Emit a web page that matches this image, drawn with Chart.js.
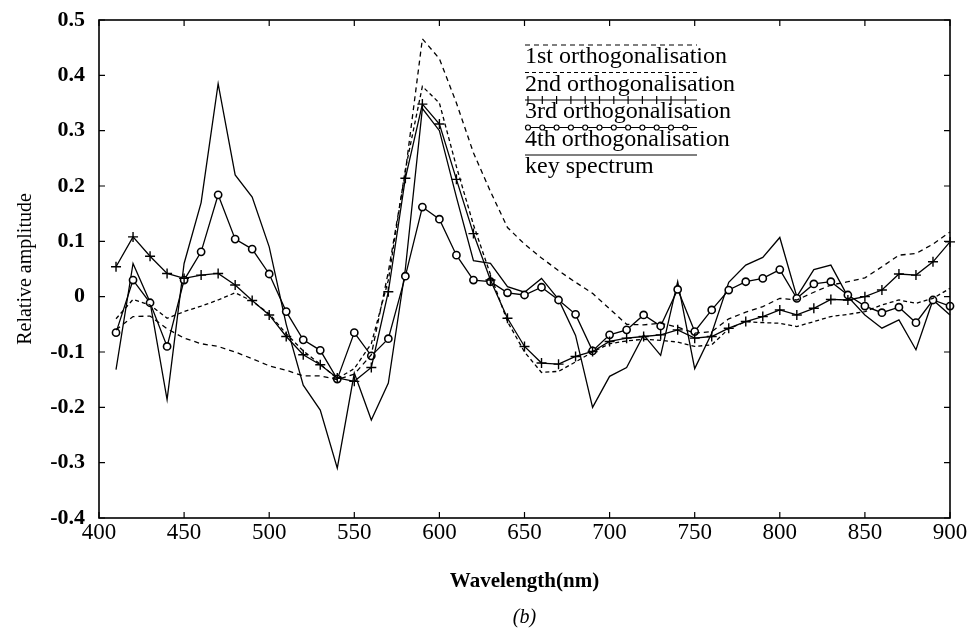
<!DOCTYPE html>
<html lang="en">
<head>
<meta charset="UTF-8">
<title>Orthogonalisation spectra</title>
<script src="https://cdn.jsdelivr.net/npm/chart.js"></script>
<style>
  body { margin: 0; background: #fff; }
  #chart { display: block; }
</style>
</head>
<body>
<canvas id="chart" width="968" height="633"></canvas>
<script>
// wavelength (nm) of every sample
const wavelengths = [410, 420, 430, 440, 450, 460, 470, 480, 490, 500,
  510, 520, 530, 540, 550, 560, 570, 580, 590, 600,
  610, 620, 630, 640, 650, 660, 670, 680, 690, 700,
  710, 720, 730, 740, 750, 760, 770, 780, 790, 800,
  810, 820, 830, 840, 850, 860, 870, 880, 890, 900];

const firstOrth = [-0.06, -0.036, -0.035, -0.058, -0.075, -0.085, -0.09, -0.1, -0.112, -0.125,
  -0.133, -0.143, -0.143, -0.15, -0.14, -0.105, 0.045, 0.225, 0.466, 0.43,
  0.35, 0.26, 0.19, 0.125, 0.095, 0.07, 0.047, 0.026, 0.006, -0.022,
  -0.05, -0.051, -0.048, -0.055, -0.066, -0.063, -0.04, -0.028, -0.018, -0.003,
  -0.006, 0.008, 0.021, 0.027, 0.034, 0.054, 0.075, 0.078, 0.095, 0.117];

const secondOrth = [-0.04, -0.005, -0.015, -0.039, -0.027, -0.017, -0.006, 0.007, -0.008, -0.031,
  -0.067, -0.098, -0.122, -0.148, -0.13, -0.085, 0.03, 0.23, 0.38, 0.35,
  0.235, 0.13, 0.04, -0.045, -0.1, -0.137, -0.135, -0.118, -0.1, -0.085,
  -0.08, -0.077, -0.079, -0.082, -0.09, -0.087, -0.058, -0.045, -0.047, -0.048,
  -0.054, -0.045, -0.036, -0.032, -0.027, -0.015, -0.006, -0.012, -0.003, 0.015];

const thirdOrth = [0.054, 0.108, 0.073, 0.042, 0.033, 0.039, 0.042, 0.021, -0.007, -0.033,
  -0.072, -0.105, -0.123, -0.147, -0.153, -0.128, 0.009, 0.214, 0.348, 0.312,
  0.212, 0.114, 0.03, -0.039, -0.09, -0.12, -0.122, -0.108, -0.099, -0.081,
  -0.075, -0.072, -0.069, -0.06, -0.075, -0.072, -0.057, -0.045, -0.036, -0.024,
  -0.033, -0.021, -0.005, -0.006, 0.0, 0.012, 0.041, 0.039, 0.063, 0.099];

const fourthOrth = [-0.065, 0.03, -0.011, -0.09, 0.03, 0.081, 0.184, 0.104, 0.086, 0.041,
  -0.027, -0.078, -0.097, -0.149, -0.065, -0.107, -0.076, 0.037, 0.162, 0.14,
  0.075, 0.03, 0.027, 0.007, 0.003, 0.017, -0.006, -0.032, -0.098, -0.069,
  -0.06, -0.033, -0.053, 0.013, -0.063, -0.024, 0.012, 0.027, 0.033, 0.049,
  -0.003, 0.023, 0.027, 0.003, -0.017, -0.029, -0.019, -0.047, -0.006, -0.017];

const keySpectrum = [-0.132, 0.06, -0.01, -0.186, 0.06, 0.17, 0.385, 0.22, 0.18, 0.09,
  -0.05, -0.16, -0.205, -0.31, -0.138, -0.223, -0.156, 0.05, 0.34, 0.3,
  0.18, 0.065, 0.06, 0.018, 0.008, 0.033, -0.005, -0.07, -0.2, -0.144,
  -0.128, -0.069, -0.106, 0.027, -0.13, -0.066, 0.026, 0.057, 0.071, 0.107,
  0.0, 0.049, 0.057, 0.0, -0.033, -0.057, -0.042, -0.096, -0.006, -0.033];

const seriesLabels = ['1st orthogonalisation', '2nd orthogonalisation', '3rd orthogonalisation',
  '4th orthogonalisation', 'key spectrum'];

function toPoints(values) {
  return wavelengths.map((w, i) => ({ x: w, y: values[i] }));
}

const serif = '"Liberation Serif", "DejaVu Serif", serif';

// legend with the line sample drawn over each label, plus the frame with inward ticks
const frameAndLegend = {
  id: 'frameAndLegend',
  afterDatasetsDraw(chart) {
    const { ctx, chartArea: a, scales } = chart;
    const x = scales.x, y = scales.y;
    ctx.save();
    ctx.strokeStyle = '#000';
    ctx.lineWidth = 1.6;
    ctx.strokeRect(a.left, a.top, a.right - a.left, a.bottom - a.top);

    ctx.lineWidth = 1.2;
    ctx.beginPath();
    x.ticks.forEach(t => {
      const px = x.getPixelForValue(t.value);
      ctx.moveTo(px, a.bottom); ctx.lineTo(px, a.bottom - 6);
      ctx.moveTo(px, a.top); ctx.lineTo(px, a.top + 6);
    });
    y.ticks.forEach(t => {
      const py = y.getPixelForValue(t.value);
      ctx.moveTo(a.left, py); ctx.lineTo(a.left + 6, py);
      ctx.moveTo(a.right, py); ctx.lineTo(a.right - 6, py);
    });
    ctx.stroke();

    // legend
    const lx = 525, sampleW = 172, base0 = 63, gap = 27.5;
    ctx.font = '24px ' + serif;
    ctx.fillStyle = '#000';
    ctx.textBaseline = 'alphabetic';
    chart.data.datasets.forEach((ds, i) => {
      const base = base0 + i * gap;
      const ly = base - 18;
      ctx.fillText(ds.label, lx, base);
      ctx.lineWidth = 1.2;
      ctx.setLineDash(ds.borderDash || []);
      ctx.beginPath();
      ctx.moveTo(lx, ly);
      ctx.lineTo(lx + sampleW, ly);
      ctx.stroke();
      ctx.setLineDash([]);
      if (ds.pointStyle === 'cross') {
        ctx.beginPath();
        for (let mx = lx + 3; mx <= lx + sampleW; mx += 14.3) {
          ctx.moveTo(mx, ly - 4); ctx.lineTo(mx, ly + 4);
        }
        ctx.stroke();
      } else if (ds.pointStyle === 'circle' && ds.pointRadius > 0) {
        for (let mx = lx + 3; mx <= lx + sampleW; mx += 14.3) {
          ctx.beginPath();
          ctx.arc(mx, ly, 2.5, 0, Math.PI * 2);
          ctx.fillStyle = '#fff';
          ctx.fill();
          ctx.stroke();
        }
        ctx.fillStyle = '#000';
      }
    });

    ctx.font = 'italic 20px ' + serif;
    ctx.textAlign = 'center';
    ctx.textBaseline = 'middle';
    ctx.fillText('(b)', (a.left + a.right) / 2, 618);
    ctx.restore();
  }
};

const common = {
  borderColor: '#000',
  borderWidth: 1.3,
  tension: 0,
  clip: false,
  pointBorderColor: '#000',
  pointBackgroundColor: '#fff'
};

new Chart(document.getElementById('chart'), {
  type: 'line',
  data: {
    datasets: [
      Object.assign({}, common, { label: seriesLabels[0], data: toPoints(firstOrth), borderDash: [5, 4], pointRadius: 0, pointStyle: false }),
      Object.assign({}, common, { label: seriesLabels[1], data: toPoints(secondOrth), borderDash: [4, 3], pointRadius: 0, pointStyle: false }),
      Object.assign({}, common, { label: seriesLabels[2], data: toPoints(thirdOrth), pointStyle: 'cross', pointRadius: 5, pointBorderWidth: 1.4 }),
      Object.assign({}, common, { label: seriesLabels[3], data: toPoints(fourthOrth), pointStyle: 'circle', pointRadius: 3.6, pointBorderWidth: 1.6 }),
      Object.assign({}, common, { label: seriesLabels[4], data: toPoints(keySpectrum), pointRadius: 0, pointStyle: false })
    ]
  },
  options: {
    responsive: false,
    animation: false,
    layout: { padding: { left: 0, right: 18, top: 20, bottom: 0 } },
    plugins: { legend: { display: false }, tooltip: { enabled: false } },
    scales: {
      x: {
        type: 'linear',
        min: 400,
        max: 900,
        afterFit: s => { s.height = 115; },
        grid: { display: false },
        border: { display: false },
        ticks: { stepSize: 50, padding: -7, color: '#000', font: { family: serif, size: 23 } },
        title: { display: true, text: 'Wavelength(nm)', color: '#000', padding: { top: 0, bottom: 39 },
          font: { family: serif, size: 21, weight: 'bold' } }
      },
      y: {
        min: -0.4,
        max: 0.5,
        afterFit: s => { s.width = 99; },
        grid: { display: false },
        border: { display: false },
        ticks: { stepSize: 0.1, padding: 6, color: '#000', font: { family: serif, size: 22, weight: 'bold' },
          callback: v => Math.abs(v) < 1e-9 ? '0' : v.toFixed(1) },
        title: { display: true, text: 'Relative amplitude', color: '#000', padding: { top: 14, bottom: 0 },
          font: { family: serif, size: 20 } }
      }
    }
  },
  plugins: [frameAndLegend]
});
</script>
</body>
</html>
